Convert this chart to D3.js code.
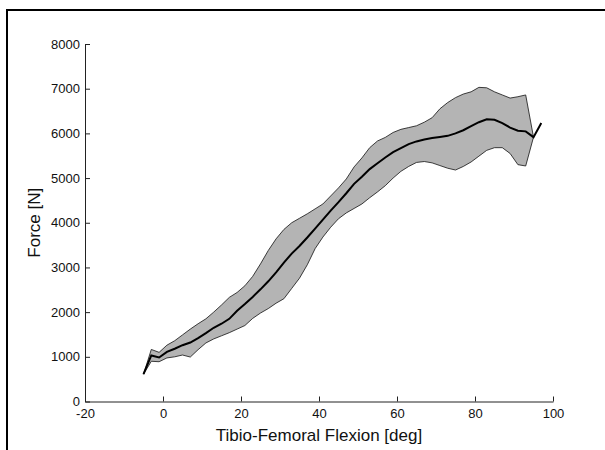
<!DOCTYPE html>
<html>
<head>
<meta charset="utf-8">
<script src="https://cdn.jsdelivr.net/npm/d3@7"></script>
<style>
  body { margin: 0; background: #fff; }
  svg { display: block; font-family: "Liberation Sans", Arial, sans-serif; }
</style>
</head>
<body>
<div class="chart-area"></div>
<script>
// flexion angle samples [deg]
var flexion = [-5, -3, -1, 1, 3, 5, 7, 9, 11, 13, 15, 17, 19, 21, 23, 25, 27, 29, 31, 33,
               35, 37, 39, 41, 43, 45, 47, 49, 51, 53, 55, 57, 59, 61, 63, 65, 67, 69, 71, 73,
               75, 77, 79, 81, 83, 85, 87, 89, 91, 93, 95, 97];

// mean force [N]
var meanForce = [610, 1030, 985, 1110, 1180, 1260, 1320, 1420, 1530, 1650, 1740, 1850, 2030, 2180, 2340, 2510, 2690, 2890, 3110, 3310,
                 3480, 3670, 3870, 4070, 4270, 4460, 4660, 4870, 5030, 5200, 5330, 5460, 5580, 5670, 5760, 5820, 5865, 5895, 5920, 5945,
                 6000, 6070, 6160, 6250, 6315, 6305, 6230, 6130, 6060, 6045, 5915, 6230];

// band limits [N] (no band at the last sample)
var upperForce = [610, 1165, 1100, 1260, 1360, 1490, 1620, 1740, 1850, 2000, 2160, 2330, 2440, 2590, 2800, 3080, 3380, 3640, 3850, 4000,
                  4100, 4200, 4310, 4420, 4600, 4780, 4980, 5250, 5450, 5680, 5830, 5910, 6020, 6090, 6130, 6170, 6250, 6350, 6550, 6690,
                  6800, 6880, 6930, 7030, 7020, 6930, 6860, 6790, 6820, 6860, 5915, null];
var lowerForce = [610, 900, 890, 975, 1000, 1040, 995, 1160, 1310, 1400, 1470, 1540, 1620, 1700, 1860, 1980, 2080, 2200, 2300, 2530,
                  2760, 3060, 3420, 3680, 3900, 4090, 4220, 4320, 4420, 4560, 4690, 4830, 5000, 5150, 5260, 5350, 5370, 5340, 5280, 5220,
                  5180, 5260, 5360, 5490, 5620, 5680, 5680, 5550, 5300, 5270, 5915, null];

var xTicks = [-20, 0, 20, 40, 60, 80, 100];
var yTicks = [0, 1000, 2000, 3000, 4000, 5000, 6000, 7000, 8000];

var width = 605,
    height = 450,
    plotLeft = 85,
    plotRight = 553,
    plotTop = 44,
    plotBottom = 401.5;

var svg = d3.select(".chart-area")
            .append("svg")
            .attr("width", width)
            .attr("height", height);

// outer frame
svg.append("path")
   .attr("d", "M7,450 V10 H605")
   .attr("fill", "none")
   .attr("stroke", "#000")
   .attr("stroke-width", 2);

var x = d3.scaleLinear().domain([-20, 100]).range([plotLeft, plotRight]),
    y = d3.scaleLinear().domain([0, 8000]).range([plotBottom, plotTop]);

var rows = flexion.map(function(d, i) {
  return { x: d, m: meanForce[i], lo: lowerForce[i], hi: upperForce[i] };
});

var band = d3.area()
             .defined(function(d) { return d.hi != null })
             .x(function(d) { return x(d.x) })
             .y0(function(d) { return y(d.lo) })
             .y1(function(d) { return y(d.hi) });

svg.append("path")
   .datum(rows)
   .attr("d", band)
   .attr("fill", "#b4b4b4")
   .attr("stroke", "#111")
   .attr("stroke-width", 0.8);

svg.append("path")
   .datum(rows)
   .attr("d", d3.line().x(function(d) { return x(d.x) }).y(function(d) { return y(d.m) }))
   .attr("fill", "none")
   .attr("stroke", "#000")
   .attr("stroke-width", 2);

// axes, ticks point inwards
var xAxis = svg.append("g")
   .attr("transform", "translate(0," + plotBottom + ")")
   .call(d3.axisBottom(x).tickValues(xTicks).tickFormat(String).tickSize(-5).tickSizeOuter(0));

var yAxis = svg.append("g")
   .attr("transform", "translate(" + plotLeft + ",0)")
   .call(d3.axisLeft(y).tickValues(yTicks).tickFormat(String).tickSize(-5).tickSizeOuter(0));

[xAxis, yAxis].forEach(function(g) {
  g.select(".domain").attr("stroke", "#222");
  g.selectAll(".tick line").attr("stroke", "#222");
  g.selectAll(".tick text")
   .attr("fill", "#111")
   .style("font-family", "'Liberation Sans', Arial, sans-serif")
   .style("font-size", "13px");
});
xAxis.selectAll(".tick text").attr("dy", "0.71em").attr("y", 7);
yAxis.selectAll(".tick text").attr("x", -5);

svg.append("text")
   .attr("x", (plotLeft + plotRight) / 2)
   .attr("y", 441)
   .attr("text-anchor", "middle")
   .attr("fill", "#111")
   .style("font-size", "17px")
   .text("Tibio-Femoral Flexion [deg]");

svg.append("text")
   .attr("transform", "translate(40," + ((plotTop + plotBottom) / 2) + ") rotate(-90)")
   .attr("text-anchor", "middle")
   .attr("fill", "#111")
   .style("font-size", "17px")
   .text("Force [N]");
</script>
</body>
</html>
